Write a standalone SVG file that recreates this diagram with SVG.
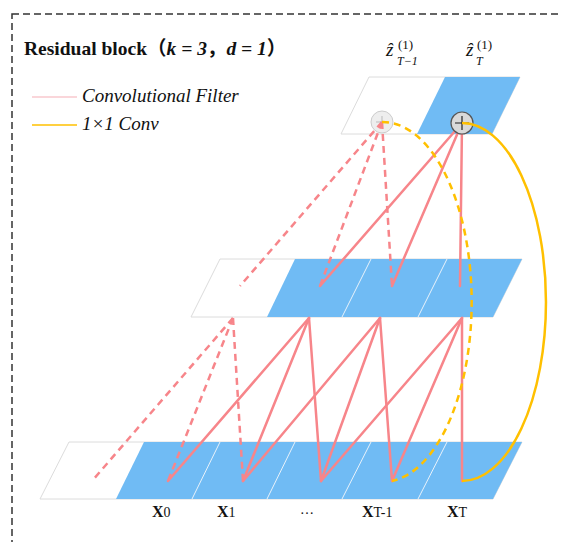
<svg xmlns="http://www.w3.org/2000/svg" width="561" height="542" viewBox="0 0 561 542">
<style>
.cell{fill:#fff;stroke:#dcdcdc;stroke-width:1}
.blue{fill:#70bbf4}
.div{stroke:#e8f2fb;stroke-width:1}
.r{stroke:#f7858a;stroke-width:2.5;fill:none;stroke-linecap:round}
.rd{stroke:#f7858a;stroke-width:2.5;fill:none;stroke-dasharray:7 5}
.y{stroke:#ffc000;stroke-width:2.5;fill:none}
.yd{stroke:#ffc000;stroke-width:2.5;fill:none;stroke-dasharray:7 5}
.t{font-family:"Liberation Serif","Noto Sans CJK SC",serif;fill:#111}
</style>
<rect x="12" y="14" width="620" height="620" fill="none" stroke="#333" stroke-width="1.5" stroke-dasharray="7 4"/>
<g id="title">
<text class="t" x="24" y="55" font-size="19.5" font-weight="bold">Residual block<tspan font-family="Noto Sans CJK SC">（</tspan><tspan font-style="italic">k = 3</tspan><tspan font-family="Noto Sans CJK SC">，</tspan><tspan font-style="italic">d = 1</tspan><tspan font-family="Noto Sans CJK SC">）</tspan></text>
</g>
<g id="legend">
<line x1="32" y1="97" x2="77" y2="97" stroke="#f9c8ce" stroke-width="1.5"/>
<text class="t" x="82" y="102" font-size="19" font-style="italic">Convolutional Filter</text>
<line x1="32" y1="125" x2="77" y2="125" stroke="#ffc000" stroke-width="1.5"/>
<text class="t" x="82" y="130" font-size="19" font-style="italic">1×1 Conv</text>
</g>
<g id="layer-input">
<polygon class="cell" points="69,442 522,442 493,499 40,499"/>
<polygon class="blue" points="144,442 522,442 493,499 116,499"/>
<line class="div" x1="220" y1="442" x2="192" y2="499"/>
<line class="div" x1="295" y1="442" x2="267" y2="499"/>
<line class="div" x1="371" y1="442" x2="342" y2="499"/>
<line class="div" x1="447" y1="442" x2="418" y2="499"/>
</g>
<g id="layer-hidden">
<polygon class="cell" points="220,259 522,259 493,317 191,317"/>
<polygon class="blue" points="295,259 522,259 493,317 267,317"/>
<line class="div" x1="371" y1="259" x2="342" y2="317"/>
<line class="div" x1="447" y1="259" x2="418" y2="317"/>
</g>
<g id="layer-output">
<polygon class="cell" points="369,77 520,77 492,134 341,134"/>
<polygon class="blue" points="445,77 520,77 492,134 417,134"/>
</g>
<g id="node-add-faded">
<circle cx="382" cy="122" r="11" fill="#eeeeee" stroke="#cccccc" stroke-width="1"/>
<path d="M376 122h12M382 116v12" stroke="#bbbbbb" stroke-width="1"/>
</g>
<g id="connectors">
<line class="rd" x1="233" y1="318" x2="92" y2="481"/>
<line class="rd" x1="233" y1="318" x2="168" y2="481"/>
<line class="rd" x1="233" y1="318" x2="243" y2="481"/>
<line class="r" x1="309" y1="318" x2="168" y2="481"/>
<line class="r" x1="309" y1="318" x2="243" y2="481"/>
<line class="r" x1="309" y1="318" x2="321" y2="481"/>
<line class="r" x1="380" y1="318" x2="243" y2="481"/>
<line class="r" x1="380" y1="318" x2="321" y2="481"/>
<line class="r" x1="380" y1="318" x2="392" y2="481"/>
<line class="r" x1="462" y1="318" x2="321" y2="481"/>
<line class="r" x1="462" y1="318" x2="392" y2="481"/>
<line class="r" x1="462" y1="318" x2="462" y2="481"/>
<line class="rd" x1="382" y1="122" x2="240" y2="286"/>
<line class="rd" x1="382" y1="122" x2="320" y2="286"/>
<line class="rd" x1="382" y1="122" x2="392" y2="286"/>
<line class="r" x1="462" y1="123" x2="320" y2="286"/>
<line class="r" x1="462" y1="123" x2="392" y2="286"/>
<line class="r" x1="462" y1="123" x2="460" y2="286"/>
</g>
<g id="node-add">
<circle cx="462" cy="123" r="11" fill="#d9d9d9" stroke="#555" stroke-width="1.2"/>
<path d="M455 123h14M462 116v14" stroke="#222" stroke-width="1.2"/>
</g>
<g id="residual">
<path class="yd" d="M382 122 A89 180 0 0 1 392 481"/>
<path class="y" d="M462 123 A84 179 0 0 1 462 481"/>
</g>
<g id="labels-top">
<text class="t" x="386" y="56" font-size="19" font-style="italic">ẑ</text>
<text class="t" x="398" y="49" font-size="13">(1)</text>
<text class="t" x="397" y="65" font-size="12" font-style="italic">T−1</text>
<text class="t" x="466" y="56" font-size="19" font-style="italic">ẑ</text>
<text class="t" x="477" y="49" font-size="13">(1)</text>
<text class="t" x="476" y="65" font-size="12" font-style="italic">T</text>
</g>
<g id="labels-bottom">
<text class="t" x="152" y="517" font-size="16"><tspan font-weight="bold">X</tspan><tspan font-size="14">0</tspan></text>
<text class="t" x="217" y="517" font-size="16"><tspan font-weight="bold">X</tspan><tspan font-size="14">1</tspan></text>
<text class="t" x="300" y="514" font-size="14">…</text>
<text class="t" x="362" y="517" font-size="16"><tspan font-weight="bold">X</tspan><tspan font-size="14">T-1</tspan></text>
<text class="t" x="447" y="517" font-size="16"><tspan font-weight="bold">X</tspan><tspan font-size="14">T</tspan></text>
</g>
</svg>
